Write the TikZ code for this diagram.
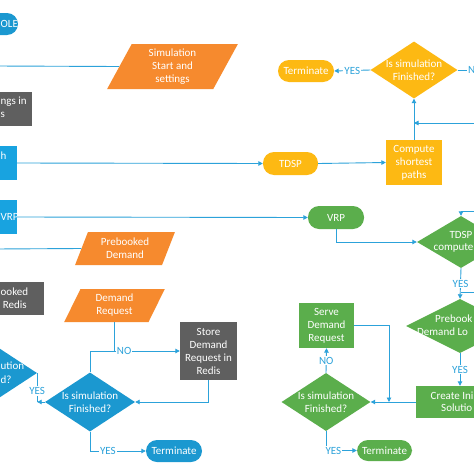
\documentclass[tikz,border=0pt]{standalone}
\usepackage{fontspec}
\setmainfont{Carlito}
\usetikzlibrary{shapes.geometric,arrows.meta}
\definecolor{lb}{HTML}{2CA2DA}
\definecolor{cyanbox}{HTML}{18A3E0}
\definecolor{bluedia}{HTML}{1B98D0}
\definecolor{orng}{HTML}{F68A2E}
\definecolor{yell}{HTML}{FDB913}
\definecolor{grn}{HTML}{5BAE4C}
\definecolor{gry}{HTML}{5F5F5F}
\begin{document}
\begin{tikzpicture}[x=1pt,y=-1pt,font=\fontsize{11}{13}\selectfont,
  base/.style={inner sep=0pt,text=white,align=center},
  box/.style={base,rectangle},
  pill/.style={base,rectangle,rounded corners=11pt},
  dia/.style={base,diamond},
  para/.style={base,fill=orng,trapezium,trapezium left angle=68,trapezium right angle=112,trapezium stretches=true},
  con/.style={draw=lb,line width=0.9pt},
  arr/.style={con,-{Triangle[length=4.5pt,width=4.5pt]}},
  lbl/.style={text=lb,fill=white,inner sep=1pt},
  wt/.style={text=white,inner sep=0pt},
  ctext/.style={wt,align=center}
]
\useasboundingbox (0,0) rectangle (474,474);
\fill[white] (0,0) rectangle (474,474);
\clip (0,0) rectangle (474,474);

% ---------- left partial nodes ----------
\node[pill,fill=bluedia,minimum width=58,minimum height=22] (bole) at (-11,24) {};
\node[wt,anchor=west] at (0.5,24) {OLE};
\node[box,fill=gry,minimum width=50,minimum height=34] (gset) at (7,109) {};
\node[wt,anchor=west] at (0.5,102) {ngs in};
\node[wt,anchor=west] at (0.5,115) {s};
\node[box,fill=cyanbox,minimum width=47,minimum height=34] (bh) at (-6.5,163) {};
\node[wt,anchor=west] at (0.5,156) {h};
\node[box,fill=cyanbox,minimum width=47,minimum height=34] (bvrp) at (-6.5,217) {};
\node[wt,anchor=west] at (0.5,217) {VRP};
\node[box,fill=gry,minimum width=64,minimum height=33] (gpre) at (12,298.5) {};
\node[wt,anchor=west] at (0.5,292) {ooked};
\node[wt,anchor=east] at (27,305) {Redis};
\node[dia,fill=bluedia,minimum width=90,minimum height=59] (bpart) at (-8,373) {};
\node[wt,anchor=west] at (0.5,366) {ution};
\node[wt,anchor=west] at (0.5,380) {d?};

% ---------- orange inputs ----------
\node[para,minimum width=131,minimum height=45] (osim) at (172.5,66.5) {Simulation\\Start and\\settings};
\node[para,minimum width=100,minimum height=33] (opre) at (125,248.5) {Prebooked\\Demand};
\node[para,minimum width=101,minimum height=33] (odem) at (114.5,305.5) {Demand\\Request};

% ---------- yellow ----------
\node[dia,fill=yell,minimum width=87,minimum height=57,
  label={[ctext]center:Is simulation\\Finished?}] (ydia) at (414,70) {};
\node[pill,fill=yell,minimum width=56,minimum height=22] (yterm) at (306,71) {Terminate};
\node[box,fill=yell,minimum width=56,minimum height=45] (ycomp) at (414,162.5) {Compute\\shortest\\paths};
\node[pill,fill=yell,minimum width=55,minimum height=23] (ytdsp) at (290.5,163.5) {TDSP};

% ---------- blue ----------
\node[box,fill=gry,minimum width=57,minimum height=58] (gstore) at (208.5,351) {Store\\Demand\\Request in\\Redis};
\node[dia,fill=bluedia,minimum width=90,minimum height=59,
  label={[ctext]center:Is simulation\\Finished?}] (bdia) at (90,402) {};
\node[pill,fill=bluedia,minimum width=56,minimum height=22] (bterm) at (174,451) {Terminate};

% ---------- green ----------
\node[pill,fill=grn,minimum width=56,minimum height=23] (gvrp) at (336,217.5) {VRP};
\node[dia,fill=grn,minimum width=88,minimum height=52] (gtdsp) at (461,242) {};
\node[wt] at (461,235) {TDSP};
\node[wt,anchor=west] at (433.5,248) {compute};
\node[dia,fill=grn,minimum width=108,minimum height=54] (gpreb) at (460,326) {};
\node[wt,anchor=west] at (435,319) {Prebook};
\node[wt,anchor=west] at (417,332) {Demand Lo};
\node[box,fill=grn,minimum width=90,minimum height=32,anchor=west] (gcreate) at (416,402) {};
\node[wt,anchor=west] at (430.5,396) {Create Ini};
\node[wt,anchor=west] at (441,408) {Solutio};
\node[box,fill=grn,minimum width=55,minimum height=45] (gserve) at (326.5,325.5) {Serve\\Demand\\Request};
\node[dia,fill=grn,minimum width=89,minimum height=58,
  label={[ctext]center:Is simulation\\Finished?}] (gdia) at (326,402) {};
\node[pill,fill=grn,minimum width=55,minimum height=21] (gterm) at (384.5,450.5) {Terminate};

% ---------- free ends ----------
\coordinate (l1) at (-5,66);
\coordinate (l2) at (-5,249);
\coordinate (r0) at (467,70);
\coordinate (r1) at (480,123);
\coordinate (r2) at (480,211);
\coordinate (r3) at (480,292);
\coordinate (gj) at (389,402);

% ---------- connectors ----------
\draw[con] (l1) -- (osim.west);
\draw[con] (l2) -- (opre.west);
\draw[arr] (bh.east) -- (ytdsp.west);
\draw[arr] (ytdsp.east) -- (ycomp.west);
\draw[arr] (ycomp.north) -- (ydia.south);
\draw[arr] (r1) -- (ycomp.north |- r1);
\draw[arr] (ydia.west) -- node[lbl]{YES} (yterm.east);
\draw[con] (ydia.east) -- (r0);
\node[lbl,anchor=west,inner sep=0pt] at (468,70) {N};

\draw[arr] (bvrp.east) -- (gvrp.west);
\draw[arr] (gvrp.south) |- (gtdsp.west);
\draw[arr] (r2) -| (gtdsp.north);
\draw[arr] (gtdsp.south) -- node[lbl]{YES} (gpreb.north);
\draw[con] (r3) -- (gtdsp.south |- r3);
\draw[arr] (gpreb.south) -- node[lbl]{YES} (gcreate.north -| gpreb.south);
\draw[arr] (gcreate.west) -- (gdia.east);
\draw[arr] (gserve.east) -| (gj);
\draw[arr] (gdia.north) -- node[lbl]{NO} (gserve.south);
\draw[arr] (gdia.south) |- node[lbl,pos=0.62]{YES} (gterm.west);

\draw[con] (odem.south) -- (odem.south |- gstore.west);
\draw[arr] (bdia.north) |- node[lbl,pos=0.69]{NO} (gstore.west);
\draw[arr] (gstore.south) |- (bdia.east);
\draw[arr] (bdia.south) |- node[lbl,pos=0.66]{YES} (bterm.west);
\draw[arr] (bdia.west) -- (bpart.east |- bdia.west);
\draw[con] (bpart.east) -- node[lbl,pos=0.62]{YES} (bpart.east |- bdia.west);
\end{tikzpicture}
\end{document}
